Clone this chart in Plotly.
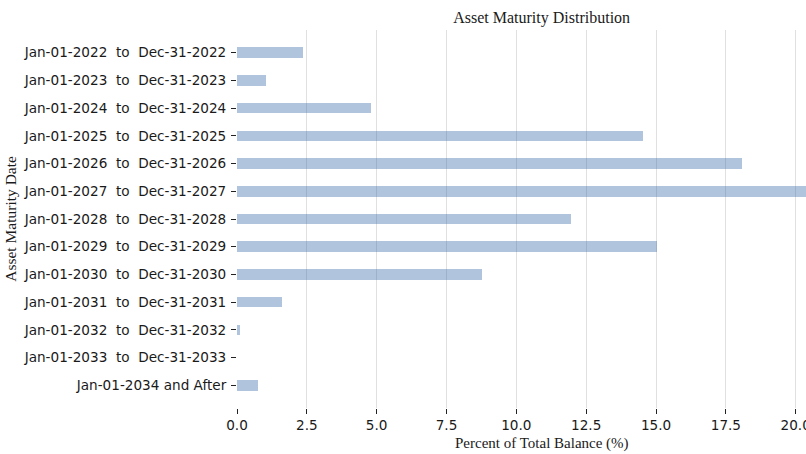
import plotly.graph_objects as go

categories = [
    "Jan-01-2022  to  Dec-31-2022",
    "Jan-01-2023  to  Dec-31-2023",
    "Jan-01-2024  to  Dec-31-2024",
    "Jan-01-2025  to  Dec-31-2025",
    "Jan-01-2026  to  Dec-31-2026",
    "Jan-01-2027  to  Dec-31-2027",
    "Jan-01-2028  to  Dec-31-2028",
    "Jan-01-2029  to  Dec-31-2029",
    "Jan-01-2030  to  Dec-31-2030",
    "Jan-01-2031  to  Dec-31-2031",
    "Jan-01-2032  to  Dec-31-2032",
    "Jan-01-2033  to  Dec-31-2033",
    "Jan-01-2034 and After",
]
percent_values = [2.37, 1.04, 4.80, 14.55, 18.07, 20.70, 11.94, 15.02, 8.78, 1.60, 0.10, 0.0, 0.74]
x_ticks = [0.0, 2.5, 5.0, 7.5, 10.0, 12.5, 15.0, 17.5, 20.0]
x_tick_labels = ["0.0", "2.5", "5.0", "7.5", "10.0", "12.5", "15.0", "17.5", "20.0"]

W, H = 806, 454
L, T, B = 236.7, 29.75, 454 - 408.3
x_max = (W - L) / 27.95

fig = go.Figure()
fig.add_trace(go.Bar(
    x=percent_values,
    y=list(range(len(categories))),
    orientation="h",
    width=0.38,
    marker=dict(color="rgba(58,108,173,0.4)", line=dict(width=0)),
    hoverinfo="x+y",
))

tick_font = dict(family="DejaVu Sans", size=13.6, color="#1a1a1a")
serif = "Liberation Serif"

fig.update_layout(
    width=W, height=H,
    margin=dict(l=L, r=0, t=T, b=B, pad=0, autoexpand=False),
    plot_bgcolor="white", paper_bgcolor="white",
    showlegend=False,
    bargap=0,
    xaxis=dict(
        range=[0, x_max], automargin=False,
        tickvals=x_ticks, ticktext=x_tick_labels,
        ticklabeloverflow="allow",
        showgrid=True, gridcolor="#e0e0e0", gridwidth=1.3,
        zeroline=False, showline=False,
        ticks="outside", ticklen=5, tickwidth=1, tickcolor="#222",
        tickfont=tick_font,
    ),
    yaxis=dict(
        range=[len(categories) - 1 + 0.82, -0.82], automargin=False,
        tickvals=list(range(len(categories))),
        ticktext=[c.replace(" ", "\u00a0") for c in categories],
        ticklabelstandoff=2,
        showgrid=False, zeroline=False, showline=False,
        ticks="outside", ticklen=5, tickwidth=1, tickcolor="#222",
        tickfont=tick_font,
    ),
    title=dict(
        text="Asset Maturity Distribution",
        font=dict(family=serif, size=16, color="#1a1a1a"),
        x=(541.5 - L) / (W - L), xref="paper", xanchor="center",
        y=1 - 17 / H, yref="container", yanchor="middle",
    ),
    annotations=[
        dict(text="Percent of Total Balance (%)", xref="paper", yref="paper",
             x=(541.5 - L) / (W - L), y=0, xanchor="center", yanchor="middle",
             yshift=-(444 - 408.3), showarrow=False,
             font=dict(family=serif, size=15, color="#1a1a1a")),
        dict(text="Asset Maturity Date", xref="paper", yref="paper",
             x=0, y=0.5, xanchor="center", yanchor="middle", textangle=-90,
             xshift=9.5 - L, showarrow=False,
             font=dict(family=serif, size=15.5, color="#1a1a1a")),
    ],
)

fig.write_html(
    "out.html",
    config={"displayModeBar": False},
    post_script="document.body.style.margin='0';document.body.style.overflow='hidden';",
)
